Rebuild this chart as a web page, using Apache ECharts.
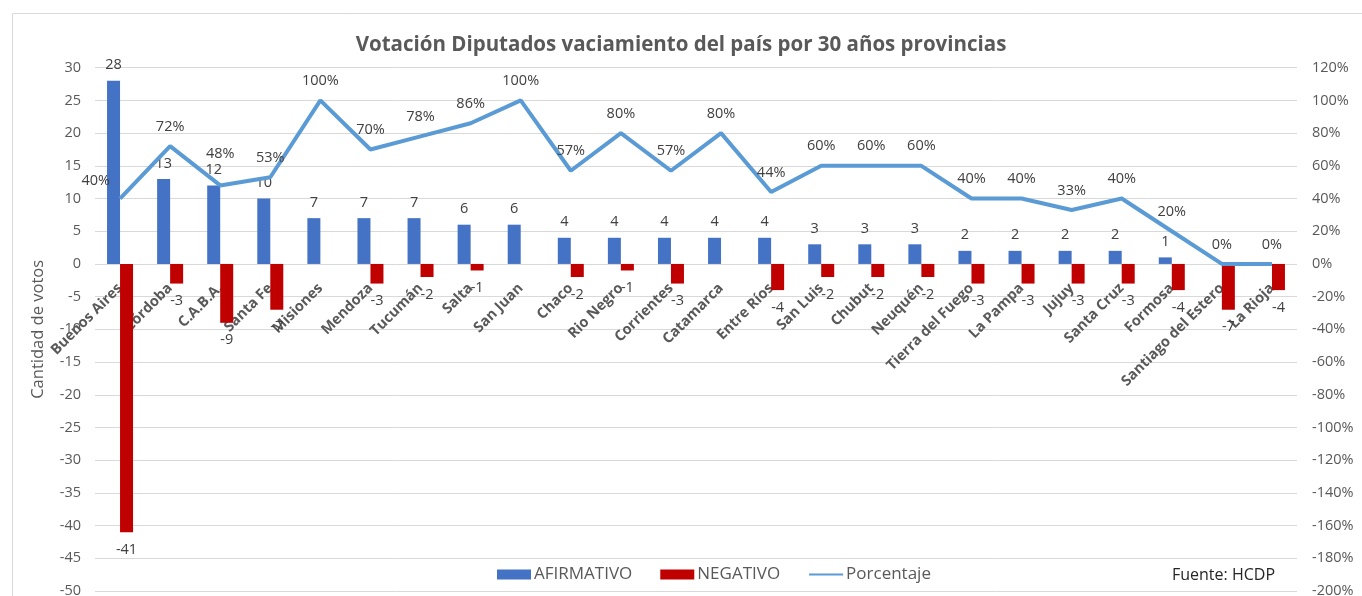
<!DOCTYPE html>
<html>
<head>
<meta charset="utf-8">
<script src="https://cdn.jsdelivr.net/npm/echarts@6/dist/echarts.min.js"></script>
<style>
html,body{margin:0;padding:0;background:#fff;}
#c{width:1362px;height:596px;}
</style>
</head>
<body>
<div id="c"></div>
<script>
const categories = ["Buenos Aires","Córdoba","C.A.B.A.","Santa Fe","Misiones","Mendoza","Tucumán","Salta","San Juan","Chaco","Rio Negro","Corrientes","Catamarca","Entre Ríos","San Luis","Chubut","Neuquén","Tierra del Fuego","La Pampa","Jujuy","Santa Cruz","Formosa","Santiago del Estero","La Rioja"];
const afirmativo = [28,13,12,10,7,7,7,6,6,4,4,4,4,4,3,3,3,2,2,2,2,1,null,null];
const negativo = [-41,-3,-9,-7,null,-3,-2,-1,null,-2,-1,-3,null,-4,-2,-2,-2,-3,-3,-3,-3,-4,-7,-4];
const porcentaje = [40,72,48,53,100,70,78,86,100,57,80,57,80,44,60,60,60,40,40,33,40,20,0,0];
const leftTicks = {min:-50, max:30, interval:5};
const rightTicks = {min:-200, max:120, interval:20};

const FONT = '"Open Sans", "Noto Sans", sans-serif';
const chart = echarts.init(document.getElementById('c'));
const lineData = porcentaje.map((v,i)=> {
  if (i===0) return {value:v, label:{position:'left', distance:10, offset:[0,-18]}};
  if (i===2) return {value:v, label:{offset:[0,-12]}};
  return v;
});

const GRID_TOP = 67.7, GRID_BOTTOM = 5, H = 596;
const gridH = H - GRID_TOP - GRID_BOTTOM;
const zeroFromBottom = gridH * (0 - leftTicks.min) / (leftTicks.max - leftTicks.min);

chart.setOption({
  animation:false,
  textStyle:{fontFamily:FONT},
  title:{
    text:'Votación Diputados vaciamiento del país por 30 años provincias',
    left:'center', top:30,
    textStyle:{fontFamily:FONT, fontSize:20.5, fontWeight:'bold', color:'#595959'}
  },
  graphic:[
    {type:'rect', shape:{x:12.5,y:13.5,width:1400,height:700}, style:{fill:'none', stroke:'#D9D9D9', lineWidth:1}, z:-10},
    {type:'text', left:1172, top:567, style:{text:'Fuente: HCDP', fontFamily:FONT, fontSize:16, fill:'#262626'}}
  ],
  legend:{
    left:497, top:566, padding:0, itemGap:28, itemWidth:34, itemHeight:10,
    textStyle:{fontFamily:FONT, fontSize:17, color:'#595959', padding:[0,0,0,-2]},
    data:[{name:'AFIRMATIVO', icon:'rect'},{name:'NEGATIVO', icon:'rect'},{name:'Porcentaje', itemStyle:{opacity:0}}]
  },
  grid:{left:95, right:65, top:GRID_TOP, bottom:GRID_BOTTOM, containLabel:false, outerBoundsMode:'none'},
  xAxis:{
    type:'category', data:categories, z:1,
    axisLine:{show:false},
    axisTick:{show:false},
    axisLabel:{interval:0, rotate:45, margin:-(zeroFromBottom - 22), fontFamily:FONT, fontSize:14.5, fontWeight:'bold', color:'#595959'}
  },
  yAxis:[
    {type:'value', min:leftTicks.min, max:leftTicks.max, interval:leftTicks.interval,
     name:'Cantidad de votos', nameLocation:'middle', nameGap:48,
     nameTextStyle:{fontFamily:FONT, fontSize:16.5, color:'#595959'},
     axisLine:{show:false}, axisTick:{show:false},
     axisLabel:{margin:14, fontFamily:FONT, fontSize:14.5, color:'#595959'},
     splitLine:{lineStyle:{color:'#D9D9D9', width:1}}},
    {type:'value', min:rightTicks.min, max:rightTicks.max, interval:rightTicks.interval,
     name:'Porcentaje Afirmativos', nameLocation:'middle', nameGap:56,
     nameTextStyle:{fontFamily:FONT, fontSize:16.5, color:'#595959'},
     axisLine:{show:false}, axisTick:{show:false},
     axisLabel:{margin:15, formatter:'{value}%', fontFamily:FONT, fontSize:14.5, color:'#595959'},
     splitLine:{show:false}}
  ],
  series:[
    {name:'AFIRMATIVO', type:'bar', data:afirmativo, barWidth:13, barGap:'0%', z:5,
     itemStyle:{color:'#4472C4'},
     label:{show:true, position:'top', distance:8, fontFamily:FONT, fontSize:14.5, color:'#404040'}},
    {name:'NEGATIVO', type:'bar', data:negativo, barWidth:13, barGap:'0%', z:5,
     itemStyle:{color:'#C00000'},
     label:{show:true, position:'bottom', distance:10, fontFamily:FONT, fontSize:14.5, color:'#404040'}},
    {name:'Porcentaje', type:'line', yAxisIndex:1, data:lineData, symbol:'circle', symbolSize:0.1, showSymbol:true,
     lineStyle:{color:'#5B9BD5', width:4}, itemStyle:{color:'#5B9BD5'},
     label:{show:true, position:'top', distance:12, formatter:'{c}%', fontFamily:FONT, fontSize:14.5, color:'#404040'}, z:6}
  ]
});
</script>
</body>
</html>
